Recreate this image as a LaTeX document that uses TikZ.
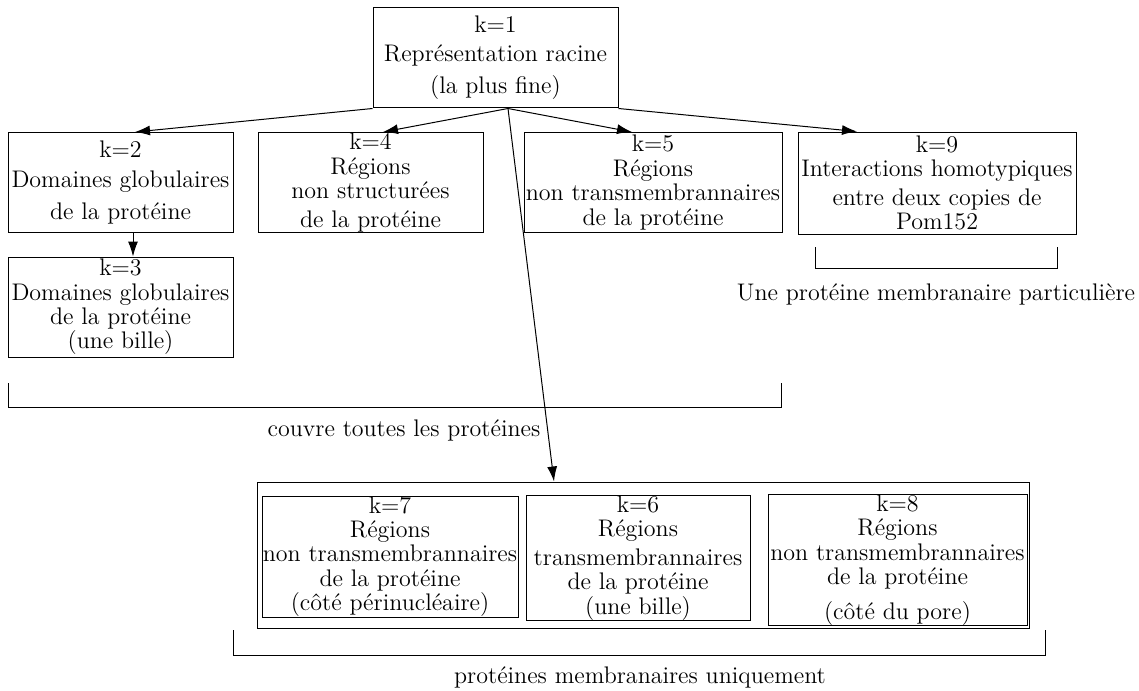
\documentclass[tikz,border=0pt]{standalone}
\usepackage{fontspec}
\usetikzlibrary{arrows.meta}

\begin{document}
\begin{tikzpicture}[
  x=0.5pt, y=-0.5pt,
  every node/.style = {font=\fontsize{12}{12.2}\selectfont, align=center, inner sep=0pt},
  boite/.style = {draw, line width=0.5pt, minimum width=112.5pt, minimum height=50pt},
  fleche/.style = {-{Latex[length=7.5pt,width=5pt]}, line width=0.5pt},
  accolade/.style = {line width=0.5pt}
]
  \useasboundingbox (0,0) rectangle (1139,690);

  % niveau 1
  \node[boite, minimum width=122.5pt] (k1) at (495.5,58)
    {k=1\\[2pt] Représentation racine\\[4pt] (la plus fine)};

  % niveau 2
  \node[boite] (k2) at (120.5,182.5)
    {k=2\\[3pt] Domaines globulaires\\[4pt] de la protéine};
  \node[boite] (k4) at (370.5,182.5)
    {k=4\\ Régions\\ non structurées\\[2pt] de la protéine};
  \node[boite, minimum width=129pt] (k5) at (653,182.5)
    {k=5\\ Régions\\ non transmembrannaires\\ de la protéine};
  \node[boite, minimum width=139pt, minimum height=51pt] (k9) at (937,183)
    {k=9\\ Interactions homotypiques\\[2pt] entre deux copies de\\ Pom152};
  \node[boite] (k3) at (120.5,307)
    {k=3\\ Domaines globulaires\\ de la protéine\\ (une bille)};

  % proteines membranaires
  \node[boite, minimum width=386pt, minimum height=73pt] (membrane) at (643,555) {};
  \node[boite, minimum width=128pt, minimum height=60.5pt] (k7) at (390,556.5)
    {k=7\\ Régions\\ non transmembrannaires\\ de la protéine\\ (côté périnucléaire)};
  \node[boite, minimum width=112pt, minimum height=62pt] (k6) at (638,558)
    {k=6\\ Régions\\[2pt] transmembrannaires\\ de la protéine\\ (une bille)};
  \node[boite, minimum width=129.5pt, minimum height=64pt] (k8) at (897.5,560)
    {k=8\\ Régions\\ non transmembrannaires\\ de la protéine\\[5pt] (côté du pore)};

  % fleches
  \draw[fleche] (k1.south west) -- ([xshift=7.25pt]k2.north);
  \draw[fleche] ([xshift=6.25pt]k1.south) -- ([xshift=6.25pt]k4.north);
  \draw[fleche] ([xshift=6.25pt]k1.south) -- ([xshift=-10.5pt]k5.north);
  \draw[fleche] (k1.south east) -- ([xshift=-40pt]k9.north);
  \draw[fleche] ([xshift=6.25pt]k1.south) -- ([xshift=-44.5pt]membrane.north);
  \draw[fleche] ([xshift=6.25pt]k2.south) -- ([xshift=6.25pt]k3.north);

  % accolades
  \draw[accolade] (8,383) |- (781,407) -- (781,383);
  \node (toutes) at (404,430) {couvre toutes les protéines};
  \draw[accolade] (815,247) |- (1057,268) -- (1057,247);
  \node (particuliere) at (936,294) {Une protéine membranaire particulière};
  \draw[accolade] (233,630) |- (1045,655) -- (1045,630);
  \node (uniquement) at (640,677) {protéines membranaires uniquement};
\end{tikzpicture}
\end{document}
